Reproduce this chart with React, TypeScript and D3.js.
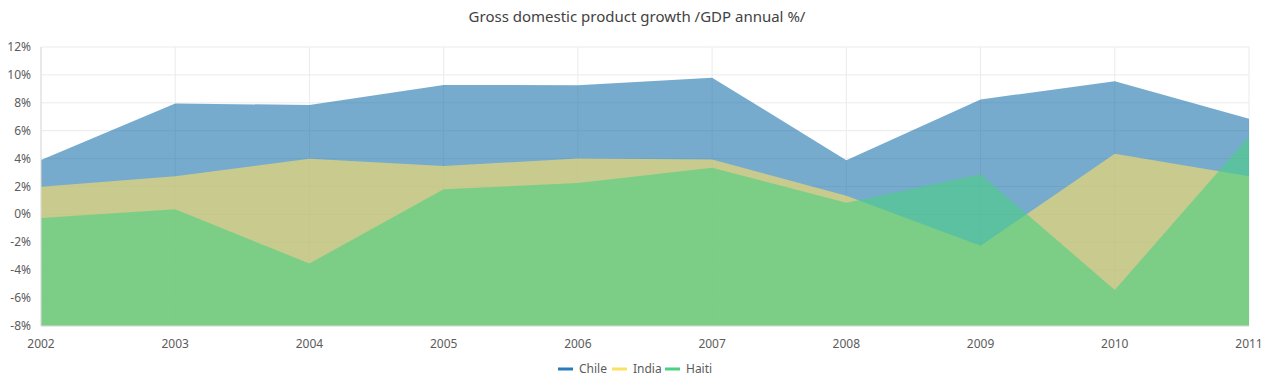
import React from 'react';
import * as d3 from 'd3';

// Data
const years = ['2002', '2003', '2004', '2005', '2006', '2007', '2008', '2009', '2010', '2011'];
const chile = [3.907, 7.943, 7.848, 9.284, 9.263, 9.801, 3.89, 8.238, 9.552, 6.855];
const india = [1.988, 2.733, 3.994, 3.464, 4.001, 3.939, 1.333, -2.245, 4.339, 2.727];
const haiti = [-0.253, 0.362, -3.519, 1.799, 2.252, 3.343, 0.843, 2.877, -5.416, 5.59];
const yTicks = [-8, -6, -4, -2, 0, 2, 4, 6, 8, 10, 12];

const seriesList = [
    { name: 'Chile', values: chile, color: '#1b73ae', legend: '#2a7bba' },
    { name: 'India', values: india, color: '#ffe162', legend: '#ffe162' },
    { name: 'Haiti', values: haiti, color: '#4ad082', legend: '#4cd180' },
];

const App = () => {
    const width = 1274;
    const height = 387;
    const margin = { top: 47, right: 25, bottom: 61, left: 41 };
    const font = '"Noto Sans", "Open Sans", sans-serif';

    const x = d3.scalePoint()
        .domain(years)
        .range([margin.left, width - margin.right]);

    const y = d3.scaleLinear()
        .domain([-8, 12])
        .range([height - margin.bottom, margin.top]);

    const area = d3.area<number>()
        .x((_, i) => x(years[i]) as number)
        .y0(y(-8))
        .y1(d => y(d));

    // legend layout
    const legendWidths = [54, 53, 47];
    const legendTotal = legendWidths.reduce((a, b) => a + b, 0);
    let lx = width / 2 - legendTotal / 2 - 2;

    return (
        <svg width={width} height={height} style={{ position: 'absolute', left: 0, top: 0, background: '#fff' }}>
            <text x={width / 2} y={22} textAnchor="middle" fontFamily={font} fontSize={15} fill="#424242">
                Gross domestic product growth /GDP annual %/
            </text>

            {/* grid */}
            <g>
                {yTicks.map(t => (
                    <line key={t} x1={margin.left} x2={width - margin.right} y1={y(t)} y2={y(t)}
                        stroke="#ebebeb" strokeWidth={1} />
                ))}
                {years.map(yr => (
                    <line key={yr} x1={x(yr)} x2={x(yr)} y1={margin.top} y2={height - margin.bottom}
                        stroke="#ebebeb" strokeWidth={1} />
                ))}
            </g>

            {/* areas */}
            {seriesList.map(s => (
                <path key={s.name} d={area(s.values) as string} fill={s.color} fillOpacity={0.6} />
            ))}

            {/* axes */}
            <line x1={margin.left} x2={width - margin.right} y1={y(-8)} y2={y(-8)} stroke="#dcdcdc" />
            <line x1={margin.left} x2={margin.left} y1={margin.top} y2={y(-8)} stroke="#dcdcdc" />

            {yTicks.map(t => (
                <text key={t} x={margin.left - 10} y={y(t) + 4} textAnchor="end" fontFamily={font}
                    fontSize={12} fill="#5c5c5c">{`${t}%`}</text>
            ))}
            {years.map(yr => (
                <text key={yr} x={x(yr)} y={height - margin.bottom + 22} textAnchor="middle" fontFamily={font}
                    fontSize={12} fill="#5c5c5c">{yr}</text>
            ))}

            {/* legend */}
            <g>
                {seriesList.map((s, i) => {
                    const gx = lx;
                    lx += legendWidths[i];
                    return (
                        <g key={s.name} transform={`translate(${gx},369)`}>
                            <rect x={0} y={-1.5} width={15} height={3} fill={s.legend} />
                            <text x={21} y={4} fontFamily={font} fontSize={12} fill="#5c5c5c">{s.name}</text>
                        </g>
                    );
                })}
            </g>
        </svg>
    );
};

export default App;
